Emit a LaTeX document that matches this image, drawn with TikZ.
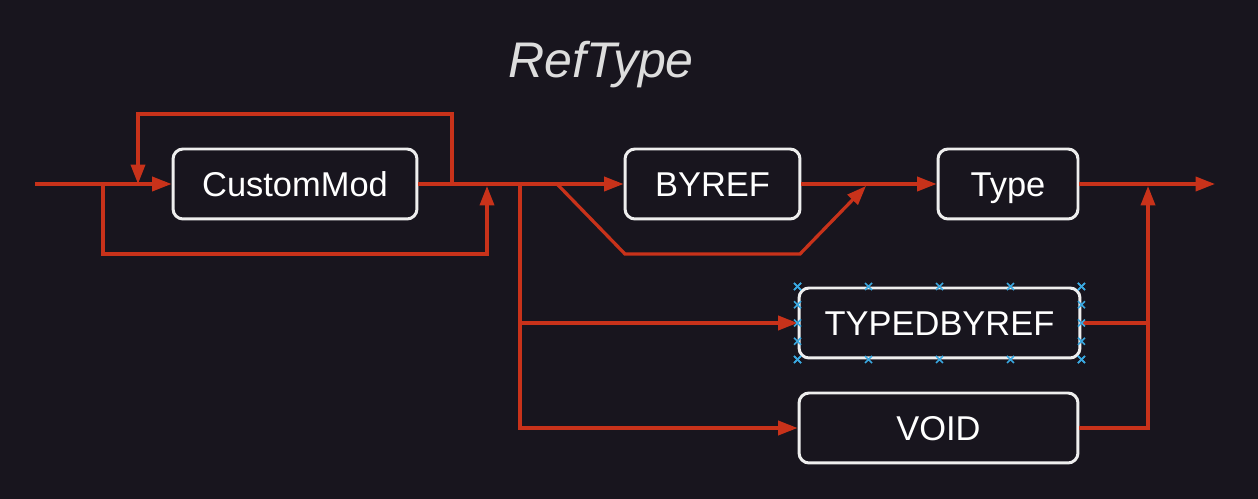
\documentclass[tikz,border=0pt]{standalone}
\usepackage{fontspec}
\setmainfont{Liberation Sans}
\usetikzlibrary{arrows.meta,calc}
\definecolor{bg}{HTML}{18151E}
\definecolor{wirec}{HTML}{C8321A}
\definecolor{boxline}{HTML}{EEEEEE}
\definecolor{titlec}{HTML}{DDDDDD}
\definecolor{selmark}{HTML}{3AA8E0}
\begin{document}
\begin{tikzpicture}[x=0.02cm,y=-0.02cm,
  box/.style={draw=boxline, line width=1.7pt, rounded corners=0.2cm, fill=bg, text=white,
    font=\fontsize{19.6}{22}\selectfont, minimum height=1.4cm, inner sep=0pt,
    text height=14pt, text depth=0pt},
  wire/.style={draw=wirec, line width=1.85pt},
  arr/.style={wire, -{Triangle[length=11pt,width=8pt]}},
  selx/.style={draw=selmark, line width=0.9pt}
]
\fill[bg] (0,0) rectangle (1258,499);
\node[font=\itshape\fontsize{28.5}{32}\selectfont, text=titlec, anchor=base, inner sep=0pt] (title) at (601,78) {RefType};
\node[box, minimum width=4.88cm] (cm) at (295,184) {CustomMod};
\node[box, minimum width=3.5cm] (byref) at (712.5,184) {BYREF};
\node[box, minimum width=2.8cm] (type) at (1008,184) {Type};
\node[box, minimum width=5.62cm] (tbr) at (939.5,323) {TYPEDBYREF};
\node[box, minimum width=5.58cm] (void) at (938.5,428) {VOID};
\coordinate (start) at (35,184);
\coordinate (end) at (1215,184);
\coordinate (jA) at (103,184);
\coordinate (jB) at (138,184);
\coordinate (jC) at (452,184);
\coordinate (jD) at (487,186);
\coordinate (jE) at (520,184);
\coordinate (jF) at (557,184);
\coordinate (bl) at (625,254);
\coordinate (br) at (800,254);
\coordinate (jG) at (866,186);
\coordinate (jH) at (1148,186);
% main line
\draw[arr] (start) -- (cm.west);
\draw[arr] (cm.east) -- (byref.west);
\draw[arr] (byref.east) -- (type.west);
\draw[arr] (type.east) -- (end);
% loop over CustomMod
\draw[arr] (jC) -- ++(0,-70) -| (jB);
% bypass under CustomMod
\draw[arr] (jA) -- ++(0,70) -| (jD);
% branches
\draw[arr] (jE) |- (void.west);
\draw[arr] (jE |- tbr.west) -- (tbr.west);
% BYREF bypass
\draw[arr] (jF) -- (bl) -- (br) -- (jG);
% right merge
\draw[wire] (tbr.east) -- (tbr.east -| jH);
\draw[arr] (void.east) -| (jH);
% selection markers
\foreach \t in {0,0.25,0.5,0.75,1}{
  \draw[selx] ($(tbr.north west)!\t!(tbr.north east)$) ++(-3.5,-3.5) -- ++(7,7) ++(-7,0) -- ++(7,-7);
  \draw[selx] ($(tbr.south west)!\t!(tbr.south east)$) ++(-3.5,-3.5) -- ++(7,7) ++(-7,0) -- ++(7,-7);
  \draw[selx] ($(tbr.north west)!\t!(tbr.south west)$) ++(-3.5,-3.5) -- ++(7,7) ++(-7,0) -- ++(7,-7);
  \draw[selx] ($(tbr.north east)!\t!(tbr.south east)$) ++(-3.5,-3.5) -- ++(7,7) ++(-7,0) -- ++(7,-7);
}
\end{tikzpicture}
\end{document}
